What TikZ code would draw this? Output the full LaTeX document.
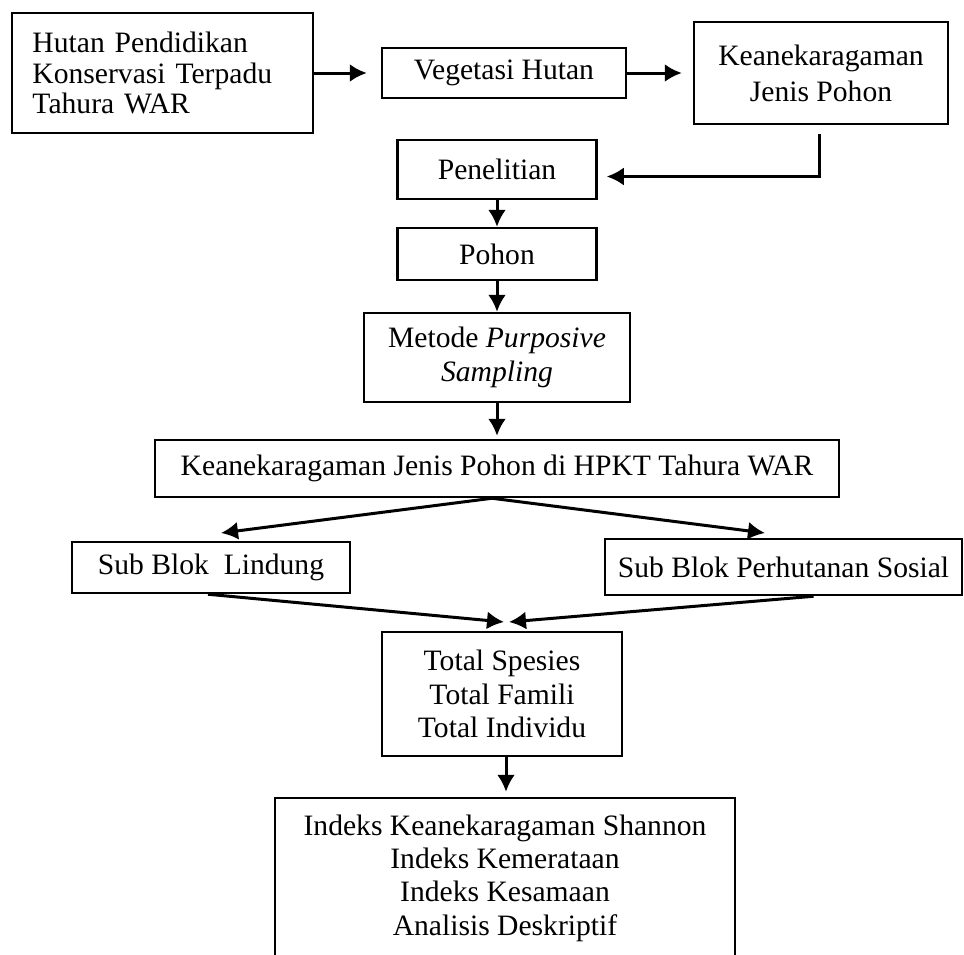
\documentclass[tikz,border=0pt]{standalone}
\usepackage{fontspec}
\setmainfont{Liberation Serif}
\usetikzlibrary{arrows.meta}
\tikzset{>={Latex[length=8.5pt,width=9pt]}}
\tikzset{box/.style={draw,line width=1.25pt,inner sep=2pt,align=center,
    font=\fontsize{14.8}{16.7}\selectfont}}

\begin{document}
\begin{tikzpicture}[x=0.5pt,y=-0.5pt,line width=1.5pt]
            \clip (0,0) rectangle (964,954);
            \node[box,align=left,text width=130pt,inner xsep=10.25pt,minimum height=60pt,
                font=\fontsize{14.8}{15.3}\selectfont] (hutan) at (162.5,73)
                {Hutan Pendidikan\\Konservasi Terpadu\\Tahura WAR};
            \node[box,minimum width=122pt,minimum height=25pt] (veg) at (504,73) {Vegetasi Hutan};
            \node[box,minimum width=127pt,minimum height=51pt,
                font=\fontsize{14.8}{18}\selectfont] (keragaman) at (821,73)
                {Keanekaragaman\\Jenis Pohon};
            \node[box,minimum width=99.5pt,minimum height=29.5pt] (penelitian) at (497,169.5) {Penelitian};
            \node[box,minimum width=99.5pt,minimum height=26pt] (pohon) at (497,254) {Pohon};
            \node[box,minimum width=133pt,minimum height=44.5pt] (metode) at (497,357.5)
                {Metode \textit{Purposive}\\\textit{Sampling}};
            \node[box,minimum width=342pt,minimum height=28.5pt] (hpkt) at (497,468.5)
                {Keanekaragaman Jenis Pohon di HPKT Tahura WAR};
            \node[box,minimum width=139pt,minimum height=25.5pt] (lindung) at (211,567.5) {Sub Blok\ \ Lindung};
            \node[box,minimum width=178.5pt,minimum height=28pt] (sosial) at (783.5,567) {Sub Blok Perhutanan Sosial};
            \node[box,minimum width=120pt,minimum height=62pt] (total) at (502,694)
                {Total Spesies\\Total Famili\\Total Individu};
            \node[box,minimum width=230pt,minimum height=80pt] (indeks) at (505,878)
                {Indeks Keanekaragaman Shannon\\Indeks Kemerataan\\Indeks Kesamaan\\Analisis Deskriptif};
            % arrow tips that end short of the boxes
            \coordinate (tl) at (221,533);
            \coordinate (tr) at (765,533);
            \coordinate (ml) at (504,622);
            \coordinate (mr) at (509,622);
            \draw[->,shorten >=7pt] (hutan) -- (veg);
            \draw[->,shorten >=5.5pt] (veg) -- (keragaman);
            \draw[->,shorten <=4.5pt,shorten >=4.5pt] ([xshift=-1pt]keragaman.south) |- ([yshift=-3.5pt]penelitian.east);
            \draw[->] (penelitian) -- (pohon);
            \draw[->] (pohon) -- (metode);
            \draw[->,shorten >=1.5pt] (metode) -- (hpkt);
            \draw[->] ([xshift=-2.5pt]hpkt.south) -- (tl);
            \draw[->] ([xshift=-2.5pt]hpkt.south) -- (tr);
            \draw[->] ([xshift=-1.5pt]lindung.south) -- (ml);
            \draw[->] ([xshift=15pt]sosial.south) -- (mr);
            \draw[->,shorten >=2.5pt] ([xshift=2pt]total.south) -- ([xshift=2pt]total.south |- indeks.north);
        \end{tikzpicture}
\end{document}
